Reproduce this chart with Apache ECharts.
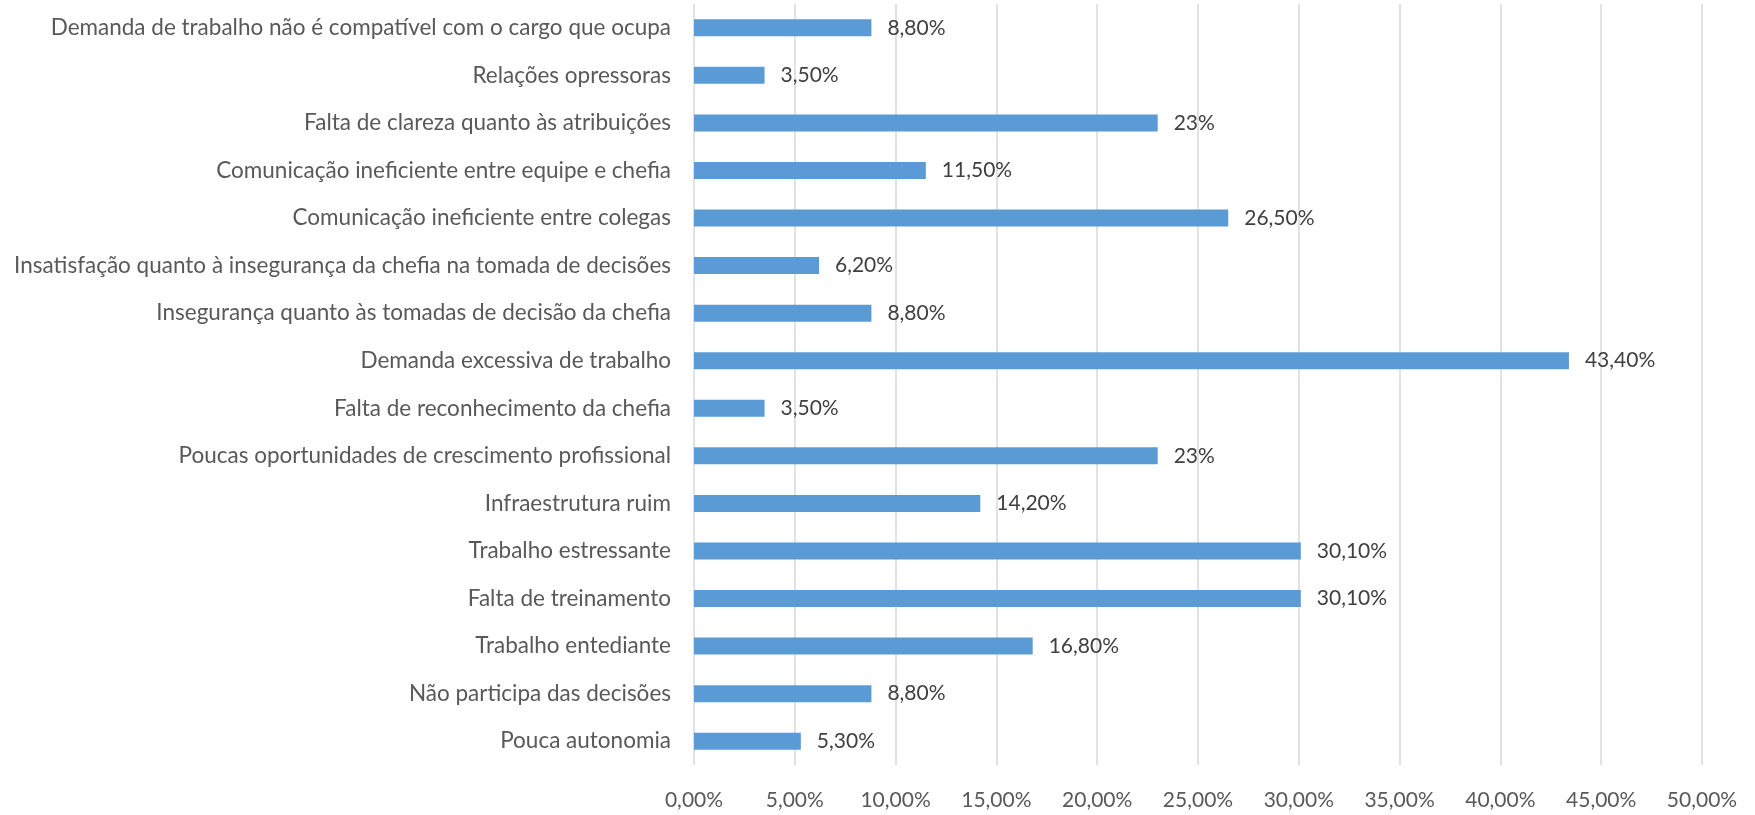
<!DOCTYPE html>
<html>
<head>
<meta charset="utf-8">
<script src="https://cdn.jsdelivr.net/npm/echarts@6/dist/echarts.min.js"></script>
<style>
  html, body { margin: 0; padding: 0; background: #fff; }
  #chart { width: 1755px; height: 815px; }
</style>
</head>
<body>
<div id="chart"></div>
<script>
// top to bottom, as in the picture
const categories = [
  "Demanda de trabalho não é compatível com o cargo que ocupa",
  "Relações opressoras",
  "Falta de clareza quanto às atribuições",
  "Comunicação ineficiente entre equipe e chefia",
  "Comunicação ineficiente entre colegas",
  "Insatisfação quanto à insegurança da chefia na tomada de decisões",
  "Insegurança quanto às tomadas de decisão da chefia",
  "Demanda excessiva de trabalho",
  "Falta de reconhecimento da chefia",
  "Poucas oportunidades de crescimento profissional",
  "Infraestrutura ruim",
  "Trabalho estressante",
  "Falta de treinamento",
  "Trabalho entediante",
  "Não participa das decisões",
  "Pouca autonomia",
];
const values = [8.8, 3.5, 23, 11.5, 26.5, 6.2, 8.8, 43.4, 3.5, 23, 14.2, 30.1, 30.1, 16.8, 8.8, 5.3];
const valueLabels = [
  "8,80%", "3,50%", "23%", "11,50%", "26,50%", "6,20%", "8,80%", "43,40%",
  "3,50%", "23%", "14,20%", "30,10%", "30,10%", "16,80%", "8,80%", "5,30%",
];

const chart = echarts.init(document.getElementById("chart"));
const font = "Lato, 'Open Sans', sans-serif";

chart.setOption({
  animation: false,
  grid: { left: 694, right: 53, top: 4, bottom: 50 },
  xAxis: {
    type: "value",
    min: 0,
    max: 50,
    interval: 5,
    axisLine: { show: false },
    axisTick: { show: false },
    splitLine: { lineStyle: { color: "#d9d9d9", width: 1.5 } },
    axisLabel: {
      color: "#595959",
      fontFamily: font,
      fontSize: 21,
      margin: 25,
      formatter: (v) => v.toFixed(2).replace(".", ",") + "%",
    },
  },
  yAxis: {
    type: "category",
    inverse: true,
    data: categories,
    axisLine: { show: false },
    axisTick: { show: false },
    axisLabel: {
      color: "#595959",
      fontFamily: font,
      fontSize: 22.5,
      margin: 23,
    },
  },
  series: [
    {
      type: "bar",
      data: values,
      barWidth: 17,
      itemStyle: { color: "#5b9bd5" },
      label: {
        show: true,
        position: "right",
        distance: 16,
        color: "#404040",
        fontFamily: font,
        fontSize: 21,
        formatter: (p) => valueLabels[p.dataIndex],
      },
    },
  ],
});
</script>
</body>
</html>
